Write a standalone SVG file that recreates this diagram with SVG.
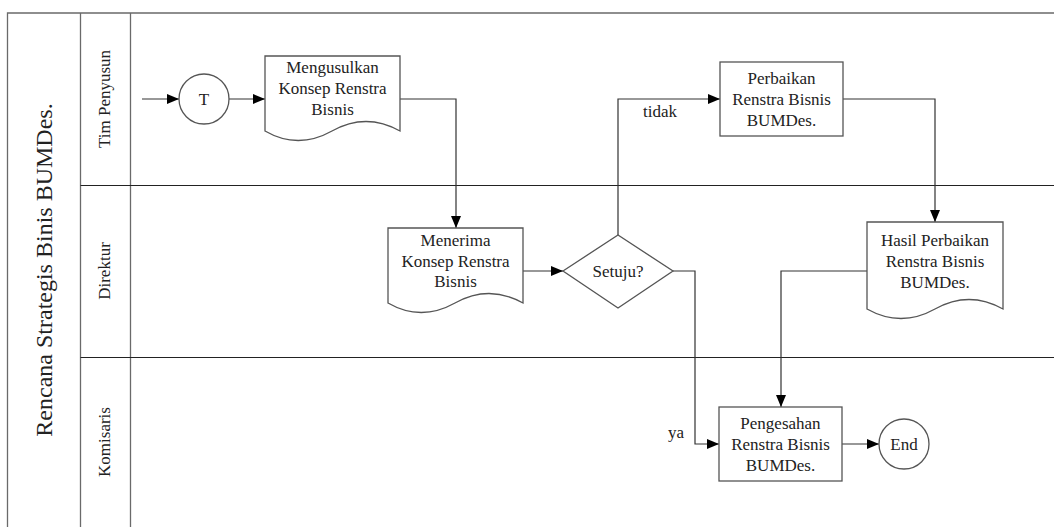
<svg xmlns="http://www.w3.org/2000/svg" width="1054" height="527" viewBox="0 0 1054 527" font-family="'Liberation Serif', 'DejaVu Serif', serif">
  <style>
    .frame { fill: none; stroke: #6a6a6a; stroke-width: 1.3; }
    .lane { fill: none; stroke: #222; stroke-width: 1.2; }
    .shape { fill: #fff; stroke: #555; stroke-width: 1.3; }
    .conn { fill: none; stroke: #333; stroke-width: 1.2; }
    .t { font-size: 17px; fill: #222; }
    .c { text-anchor: middle; }
    .title { font-size: 24px; fill: #222; text-anchor: middle; }
  </style>
  <defs>
    <marker id="arrow" markerUnits="userSpaceOnUse" markerWidth="13" markerHeight="11" refX="12" refY="5" orient="auto">
      <path d="M0,0 L12,5 L0,10 Z" fill="#000"/>
    </marker>
  </defs>
  <rect width="1054" height="527" fill="#fff"/>

  <!-- swimlane frame -->
  <g id="pool">
    <path class="frame" d="M7.5,530 V13 H1054"/>
    <path class="frame" d="M80.5,13 V530"/>
    <path class="frame" d="M130.5,13 V530"/>
    <path class="lane" d="M80.5,185.5 H1054"/>
    <path class="lane" d="M80.5,357.5 H1054"/>
    <text class="title" transform="translate(52,270) rotate(-90)">Rencana Strategis Binis BUMDes.</text>
  </g>
  <g id="lane-tim">
    <text class="t c" transform="translate(110,99) rotate(-90)">Tim Penyusun</text>
  </g>
  <g id="lane-direktur">
    <text class="t c" transform="translate(110,271) rotate(-90)">Direktur</text>
  </g>
  <g id="lane-komisaris">
    <text class="t c" transform="translate(110,442) rotate(-90)">Komisaris</text>
  </g>

  <!-- connectors -->
  <g id="connectors">
    <path class="conn" d="M142,99 H179" marker-end="url(#arrow)"/>
    <path class="conn" d="M229,99 H265" marker-end="url(#arrow)"/>
    <path class="conn" d="M400,99 H456 V228" marker-end="url(#arrow)"/>
    <path class="conn" d="M523,271 H563" marker-end="url(#arrow)"/>
    <path class="conn" d="M618,235 V99 H720" marker-end="url(#arrow)"/>
    <path class="conn" d="M843,99 H935 V222" marker-end="url(#arrow)"/>
    <path class="conn" d="M867,271 H781 V407" marker-end="url(#arrow)"/>
    <path class="conn" d="M673,271 H695 V444 H719" marker-end="url(#arrow)"/>
    <path class="conn" d="M842,444 H879" marker-end="url(#arrow)"/>
    <text class="t" x="643" y="117">tidak</text>
    <text class="t" x="668" y="438">ya</text>
  </g>

  <!-- nodes -->
  <g id="start">
    <circle class="shape" cx="204" cy="99" r="25"/>
    <text class="t c" x="204" y="105">T</text>
  </g>
  <g id="mengusulkan">
    <path class="shape" d="M265,56 H400 V131 Q366,112 332,131 Q298,150 265,131 Z"/>
    <text class="t c" x="332.5" y="73">Mengusulkan</text>
    <text class="t c" x="332.5" y="94">Konsep Renstra</text>
    <text class="t c" x="332.5" y="115">Bisnis</text>
  </g>
  <g id="menerima">
    <path class="shape" d="M388,228 H523 V303 Q489,284 455,303 Q421,322 388,303 Z"/>
    <text class="t c" x="455.5" y="246">Menerima</text>
    <text class="t c" x="455.5" y="267">Konsep Renstra</text>
    <text class="t c" x="455.5" y="287">Bisnis</text>
  </g>
  <g id="setuju">
    <path class="shape" d="M563,271 L618,235 L673,271 L618,308 Z"/>
    <text class="t c" x="618" y="277">Setuju?</text>
  </g>
  <g id="perbaikan">
    <rect class="shape" x="720" y="62" width="123" height="74"/>
    <text class="t c" x="781.5" y="84">Perbaikan</text>
    <text class="t c" x="781.5" y="105">Renstra Bisnis</text>
    <text class="t c" x="781.5" y="126">BUMDes.</text>
  </g>
  <g id="hasil-perbaikan">
    <path class="shape" d="M867,222 H1003 V309 Q969,290 935,309 Q901,328 867,309 Z"/>
    <text class="t c" x="935" y="246">Hasil Perbaikan</text>
    <text class="t c" x="935" y="267">Renstra Bisnis</text>
    <text class="t c" x="935" y="288">BUMDes.</text>
  </g>
  <g id="pengesahan">
    <rect class="shape" x="719" y="407" width="123" height="74"/>
    <text class="t c" x="780.5" y="429">Pengesahan</text>
    <text class="t c" x="780.5" y="450">Renstra Bisnis</text>
    <text class="t c" x="780.5" y="471">BUMDes.</text>
  </g>
  <g id="end">
    <circle class="shape" cx="904" cy="444" r="25"/>
    <text class="t c" x="904" y="450">End</text>
  </g>
</svg>
